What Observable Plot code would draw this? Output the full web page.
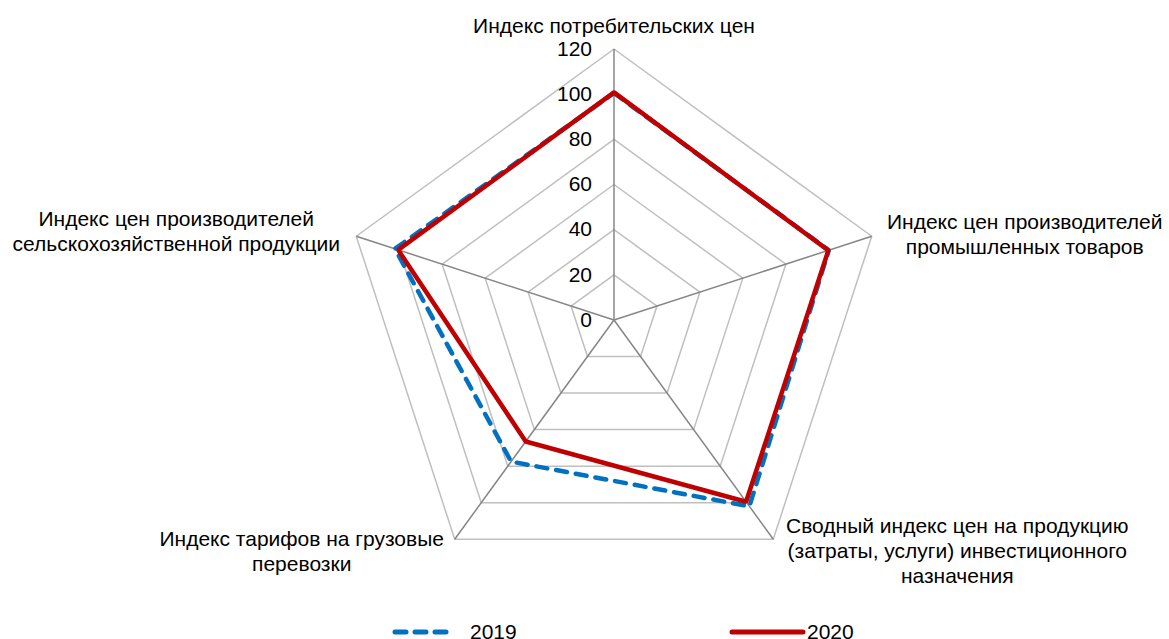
<!DOCTYPE html>
<html><head><meta charset="utf-8">
<script src="https://cdn.jsdelivr.net/npm/d3@7"></script>
<script src="https://cdn.jsdelivr.net/npm/@observablehq/plot@0.6"></script>
<style>
body{margin:0;background:#fff;font-family:"Liberation Sans",Arial,sans-serif;}
#wrap{position:relative;width:1169px;height:639px;overflow:hidden;}
#chart svg{display:block;}
.lg{position:absolute;font-size:21px;color:#000;line-height:22px;}
</style></head><body>
<div id="wrap"><div id="chart"></div><div id="legend"></div></div>
<script>
// ---- data ----
const categories = [
  "Индекс потребительских цен",
  "Индекс цен производителей промышленных товаров",
  "Сводный индекс цен на продукцию (затраты, услуги) инвестиционного назначения",
  "Индекс тарифов на грузовые перевозки",
  "Индекс цен производителей сельскохозяйственной продукции"
];
const categoryLabels = [
  "Индекс потребительских цен",
  "Индекс цен производителей\nпромышленных товаров",
  "Сводный индекс цен на продукцию\n(затраты, услуги) инвестиционного\nназначения",
  "Индекс тарифов на грузовые\nперевозки",
  "Индекс цен производителей\nсельскохозяйственной продукции"
];
const seriesNames = ["2019", "2020"];
const values2019 = [100.5, 100.0, 102.0, 77.5, 102.0];
const values2020 = [100.8, 99.8, 99.5, 66.5, 100.5];
const tickValues = [0, 20, 40, 60, 80, 100, 120];

// ---- layout ----
const W = 1169, H = 618, CX = 613.5, CY = 319.5, RPX = 271, RMAX = 120;
const FS = 21;
const k = RPX / RMAX;
const n = categories.length;
const ang = i => Math.PI / 2 - i * 2 * Math.PI / n;
const pt = (i, v) => ({x: v * Math.cos(ang(i)), y: v * Math.sin(ang(i))});
// label offsets from outer vertex in pixels (top anchor of the text block, center x)
const labelOffsetPx = [[0, -34.2], [153, -25.5], [184, -23.5], [-153, -11.4], [-180, -28.5]];

const rings = tickValues.filter(t => t > 0).flatMap(t => categories.map((c, i) => ({ring: t, ...pt(i, t)})));
const spokeRows = categories.map((c, i) => ({c, ...pt(i, RMAX)}));
const rows2019 = categories.map((c, i) => ({c, ...pt(i, values2019[i])}));
const rows2020 = categories.map((c, i) => ({c, ...pt(i, values2020[i])}));
const labelRows = categories.map((c, i) => {
  const p = pt(i, RMAX);
  return {text: categoryLabels[i], x: p.x + labelOffsetPx[i][0] / k, y: p.y - labelOffsetPx[i][1] / k};
});

const chart = Plot.plot({
  width: W, height: H, margin: 0,
  style: {fontFamily: "'Liberation Sans', Arial, sans-serif", background: "#fff", color: "#000"},
  x: {domain: [-CX / k, (W - CX) / k], range: [0, W], axis: null},
  y: {domain: [-(H - CY) / k, CY / k], range: [H, 0], axis: null},
  marks: [
    Plot.line(rings, {x: "x", y: "y", z: "ring", curve: "linear-closed", stroke: "#bfbfbf", strokeWidth: 1.5}),
    Plot.link(spokeRows, {x1: () => 0, y1: () => 0, x2: "x", y2: "y", stroke: "#868686", strokeWidth: 1.5}),
    Plot.line(rows2019, {x: "x", y: "y", curve: "linear-closed", stroke: "#0070C0", strokeWidth: 4.5,
      strokeDasharray: "11,9", strokeLinecap: "round", strokeLinejoin: "round"}),
    Plot.line(rows2020, {x: "x", y: "y", curve: "linear-closed", stroke: "#C00000", strokeWidth: 4.5, strokeLinejoin: "miter"}),
    Plot.text(tickValues, {x: () => 0, y: d => d, text: d => String(d), textAnchor: "end", dx: -22, fontSize: FS, fill: "#000"}),
    Plot.text(labelRows, {x: "x", y: "y", text: "text", textAnchor: "middle", lineAnchor: "top", lineHeight: 25 / FS, fontSize: FS, fill: "#000"})
  ]
});
document.getElementById("chart").appendChild(chart);

// ---- legend (HTML placed below the plot area) ----
const legendItems = [
  {name: seriesNames[0], color: "#0070C0", dash: "11,9", x: 395, w: 60, tx: 470},
  {name: seriesNames[1], color: "#C00000", dash: null, x: 732, w: 71, tx: 807}
];
const wrap = document.getElementById("wrap");
for (const it of legendItems) {
  const s = document.createElementNS("http://www.w3.org/2000/svg", "svg");
  s.setAttribute("width", it.w + 6); s.setAttribute("height", 10);
  s.style.position = "absolute"; s.style.left = (it.x - 3) + "px"; s.style.top = "627px";
  const l = document.createElementNS("http://www.w3.org/2000/svg", "line");
  l.setAttribute("x1", 3); l.setAttribute("x2", it.w + 3); l.setAttribute("y1", 5); l.setAttribute("y2", 5);
  l.setAttribute("stroke", it.color); l.setAttribute("stroke-width", 5);
  l.setAttribute("stroke-linecap", "round");
  if (it.dash) l.setAttribute("stroke-dasharray", it.dash);
  s.appendChild(l);
  wrap.appendChild(s);
  const t = document.createElement("div");
  t.className = "lg"; t.textContent = it.name;
  t.style.left = it.tx + "px"; t.style.top = "621px";
  wrap.appendChild(t);
}
</script>
</body></html>
